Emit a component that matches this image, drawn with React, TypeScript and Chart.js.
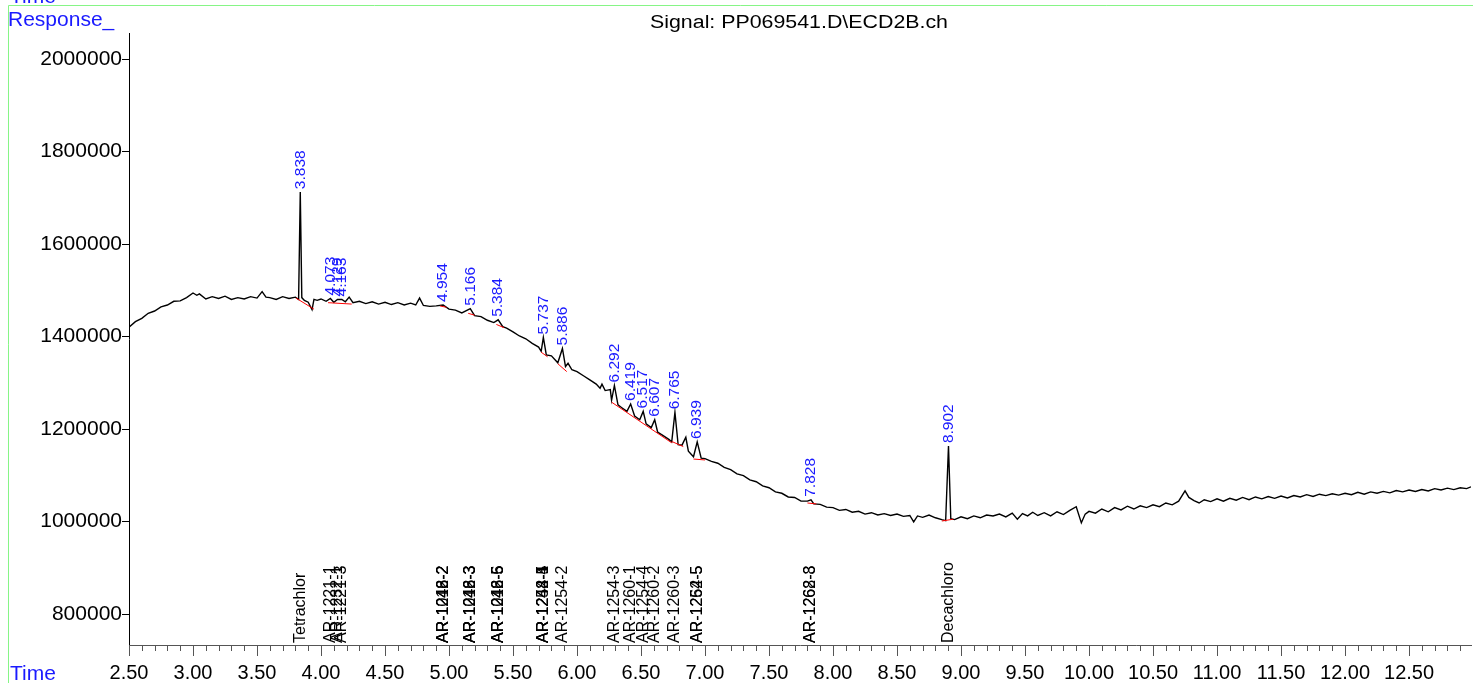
import React, { useEffect, useRef } from "react";
import { Chart, registerables } from "chart.js";

Chart.register(...registerables);

const FONT = '"Liberation Sans", Arial, Helvetica, sans-serif';

const titleText = "Signal: PP069541.D\\ECD2B.ch";
const yAxisTitle = "Response_";
const xAxisTitle = "Time";

const xMin = 2.5;
const xMax = 12.984;
const yMin = 733000;
const yMax = 2056000;

const xTickValues = [2.5, 3.0, 3.5, 4.0, 4.5, 5.0, 5.5, 6.0, 6.5, 7.0, 7.5, 8.0, 8.5, 9.0, 9.5, 10.0, 10.5, 11.0, 11.5, 12.0, 12.5];
const yTickValues = [800000, 1000000, 1200000, 1400000, 1600000, 1800000, 2000000];

// [retention time (min), response]
const trace: [number, number][] = [
  [2.50, 1420000], [2.55, 1432000], [2.60, 1439000], [2.65, 1450000], [2.70, 1455000], [2.75, 1464000],
  [2.80, 1468000], [2.85, 1476000], [2.90, 1477000], [2.95, 1484000], [3.00, 1494000], [3.03, 1489000],
  [3.05, 1492000], [3.10, 1481000], [3.15, 1486000], [3.20, 1482000], [3.25, 1487000], [3.30, 1480000],
  [3.35, 1484000], [3.40, 1481000], [3.45, 1486000], [3.50, 1483000], [3.54, 1497000], [3.57, 1485000],
  [3.60, 1484000], [3.65, 1480000], [3.70, 1486000], [3.75, 1482000], [3.80, 1485000], [3.825, 1480000],
  [3.838, 1712000], [3.85, 1484000], [3.87, 1478000], [3.90, 1474000], [3.93, 1458000], [3.945, 1480000],
  [3.97, 1478000], [4.00, 1481000], [4.04, 1476000], [4.073, 1482000], [4.10, 1474000], [4.129, 1480000],
  [4.163, 1480000], [4.19, 1475000], [4.22, 1485000], [4.25, 1473000], [4.30, 1476000], [4.35, 1471000],
  [4.40, 1475000], [4.45, 1470000], [4.50, 1474000], [4.55, 1469000], [4.60, 1473000], [4.65, 1468000],
  [4.70, 1472000], [4.74, 1468000], [4.77, 1483000], [4.80, 1467000], [4.85, 1465000], [4.90, 1466000],
  [4.954, 1468000], [5.00, 1459000], [5.05, 1457000], [5.10, 1451000], [5.166, 1460000], [5.20, 1445000],
  [5.25, 1443000], [5.30, 1435000], [5.35, 1430000], [5.384, 1436000], [5.42, 1421000], [5.45, 1418000],
  [5.50, 1410000], [5.55, 1401000], [5.60, 1395000], [5.65, 1385000], [5.70, 1377000], [5.72, 1368000],
  [5.737, 1398000], [5.76, 1360000], [5.80, 1358000], [5.85, 1343000], [5.886, 1374000], [5.91, 1335000],
  [5.93, 1342000], [5.96, 1328000], [6.00, 1324000], [6.05, 1315000], [6.10, 1306000], [6.15, 1297000],
  [6.18, 1288000], [6.195, 1297000], [6.22, 1283000], [6.26, 1285000], [6.27, 1262000], [6.292, 1294000],
  [6.32, 1252000], [6.35, 1246000], [6.39, 1238000], [6.419, 1254000], [6.45, 1228000], [6.49, 1220000],
  [6.517, 1238000], [6.54, 1211000], [6.58, 1203000], [6.607, 1220000], [6.63, 1193000], [6.67, 1186000],
  [6.72, 1177000], [6.74, 1172000], [6.765, 1236000], [6.79, 1166000], [6.82, 1165000], [6.85, 1182000],
  [6.87, 1152000], [6.91, 1140000], [6.939, 1172000], [6.97, 1137000], [7.00, 1136000], [7.05, 1130000],
  [7.10, 1126000], [7.15, 1117000], [7.20, 1112000], [7.25, 1103000], [7.30, 1099000], [7.35, 1090000],
  [7.40, 1086000], [7.45, 1077000], [7.50, 1073000], [7.55, 1064000], [7.60, 1061000], [7.65, 1053000],
  [7.70, 1052000], [7.75, 1044000], [7.80, 1044000], [7.828, 1047000], [7.85, 1038000], [7.90, 1037000],
  [7.95, 1031000], [8.00, 1030000], [8.05, 1024000], [8.10, 1026000], [8.15, 1020000], [8.20, 1022000],
  [8.25, 1016000], [8.30, 1019000], [8.35, 1014000], [8.40, 1017000], [8.45, 1013000], [8.50, 1016000],
  [8.55, 1011000], [8.60, 1013000], [8.63, 999000], [8.66, 1012000], [8.70, 1009000], [8.75, 1014000],
  [8.80, 1008000], [8.85, 1004000], [8.88, 1002000], [8.902, 1163000], [8.92, 1006000], [8.95, 1004000],
  [9.00, 1010000], [9.05, 1006000], [9.10, 1012000], [9.15, 1008000], [9.20, 1014000], [9.25, 1012000],
  [9.30, 1016000], [9.35, 1010000], [9.40, 1018000], [9.44, 1005000], [9.48, 1017000], [9.52, 1012000],
  [9.56, 1020000], [9.60, 1013000], [9.65, 1019000], [9.70, 1012000], [9.75, 1021000], [9.80, 1015000],
  [9.85, 1024000], [9.90, 1032000], [9.94, 997000], [9.97, 1016000], [10.00, 1022000], [10.05, 1018000],
  [10.10, 1027000], [10.15, 1021000], [10.20, 1030000], [10.25, 1025000], [10.30, 1033000], [10.35, 1027000],
  [10.40, 1034000], [10.45, 1030000], [10.50, 1036000], [10.55, 1032000], [10.60, 1040000], [10.65, 1036000],
  [10.70, 1044000], [10.75, 1066000], [10.78, 1052000], [10.82, 1045000], [10.86, 1040000], [10.90, 1047000],
  [10.95, 1043000], [11.00, 1049000], [11.05, 1044000], [11.10, 1050000], [11.15, 1046000], [11.20, 1052000],
  [11.25, 1047000], [11.30, 1053000], [11.35, 1049000], [11.40, 1054000], [11.45, 1050000], [11.50, 1055000],
  [11.55, 1051000], [11.60, 1056000], [11.65, 1053000], [11.70, 1058000], [11.75, 1054000], [11.80, 1059000],
  [11.85, 1056000], [11.90, 1060000], [11.95, 1057000], [12.00, 1061000], [12.05, 1058000], [12.10, 1063000],
  [12.15, 1059000], [12.20, 1064000], [12.25, 1061000], [12.30, 1065000], [12.35, 1062000], [12.40, 1067000],
  [12.45, 1064000], [12.50, 1068000], [12.55, 1065000], [12.60, 1069000], [12.65, 1066000], [12.70, 1071000],
  [12.75, 1068000], [12.80, 1072000], [12.85, 1069000], [12.90, 1073000], [12.95, 1071000], [12.984, 1075000],
];

// integration baselines: [t1, v1, t2, v2]
const integrationSegments: [number, number, number, number][] = [
  [3.805, 1483000, 3.945, 1459000],
  [4.055, 1473000, 4.24, 1470000],
  [4.93, 1466000, 4.98, 1463000],
  [5.15, 1450000, 5.2, 1446000],
  [5.37, 1426000, 5.43, 1419000],
  [5.72, 1366000, 5.77, 1356000],
  [5.85, 1341000, 5.92, 1324000],
  [6.27, 1258000, 6.74, 1170000],
  [6.74, 1173000, 6.83, 1162000],
  [6.91, 1135000, 7.0, 1133000],
  [7.8, 1040000, 7.87, 1038000],
  [8.85, 1001000, 8.94, 1005000],
];

const peakTimes = [3.838, 4.073, 4.129, 4.163, 4.954, 5.166, 5.384, 5.737, 5.886, 6.292, 6.419, 6.517, 6.607, 6.765, 6.939, 7.828, 8.902];
const peakLabels = ["3.838", "4.073", "4.129", "4.163", "4.954", "5.166", "5.384", "5.737", "5.886", "6.292", "6.419", "6.517", "6.607", "6.765", "6.939", "7.828", "8.902"];

const compoundTimes = [
  3.838, 4.073, 4.129, 4.163,
  4.954, 4.954, 4.954,
  5.166, 5.166, 5.166,
  5.384, 5.384, 5.384,
  5.737, 5.737, 5.737,
  5.886, 6.292, 6.419, 6.517, 6.607, 6.765,
  6.939, 6.939,
  7.828, 7.828,
  8.902,
];
const compoundNames = [
  "Tetrachlor", "AR-1221-1", "AR-1232-1", "AR-1221-3",
  "AR-1016-2", "AR-1242-2", "AR-1248-2",
  "AR-1016-3", "AR-1242-3", "AR-1248-3",
  "AR-1016-5", "AR-1242-6", "AR-1248-5",
  "AR-1242-5", "AR-1248-4", "AR-1254-1",
  "AR-1254-2", "AR-1254-3", "AR-1260-1", "AR-1254-4", "AR-1260-2", "AR-1260-3",
  "AR-1262-5", "AR-1254-5",
  "AR-1268-3", "AR-1262-8",
  "Decachloro",
];

const BLUE = "#1a1aff";
const GREEN = "#86f586";

function apexNear(t: number): number {
  let best = -Infinity;
  for (const [tt, v] of trace) {
    if (Math.abs(tt - t) <= 0.02 && v > best) best = v;
  }
  return best;
}

const decorPlugin = {
  id: "decor",
  afterDraw(chart: any) {
    const { ctx } = chart;
    const xs = chart.scales.x;
    const ys = chart.scales.y;
    const axisY = ys.bottom;
    ctx.save();

    // frame (green)
    ctx.strokeStyle = GREEN;
    ctx.lineWidth = 1;
    ctx.beginPath();
    ctx.moveTo(8.5, 683);
    ctx.lineTo(8.5, 5.5);
    ctx.lineTo(1473, 5.5);
    ctx.stroke();

    // x ticks (minor every 0.1, major every 0.5)
    ctx.strokeStyle = "#555";
    for (let i = 0; ; i++) {
      const t = xMin + i * 0.1;
      if (t > xMax + 1e-9) break;
      const px = Math.round(xs.getPixelForValue(t)) + 0.5;
      const major = i % 5 === 0;
      ctx.beginPath();
      ctx.moveTo(px, axisY);
      ctx.lineTo(px, axisY + (major ? 11 : 6));
      ctx.stroke();
    }

    // y ticks
    ctx.strokeStyle = "#000";
    for (const v of yTickValues) {
      const py = Math.round(ys.getPixelForValue(v)) + 0.5;
      ctx.beginPath();
      ctx.moveTo(xs.left - 7, py);
      ctx.lineTo(xs.left, py);
      ctx.stroke();
    }

    // peak labels
    ctx.font = `15.5px ${FONT}`;
    ctx.fillStyle = BLUE;
    ctx.textAlign = "left";
    ctx.textBaseline = "middle";
    peakTimes.forEach((t, i) => {
      const px = xs.getPixelForValue(t);
      const py = ys.getPixelForValue(apexNear(t)) - 3;
      ctx.save();
      ctx.translate(px, py);
      ctx.rotate(-Math.PI / 2);
      ctx.fillText(peakLabels[i], 0, 0);
      ctx.restore();
    });

    // compound labels
    ctx.font = `16px ${FONT}`;
    ctx.fillStyle = "#000";
    compoundTimes.forEach((t, i) => {
      const px = xs.getPixelForValue(t);
      ctx.save();
      ctx.translate(px, axisY - 2);
      ctx.rotate(-Math.PI / 2);
      ctx.fillText(compoundNames[i], 0, 0);
      ctx.restore();
    });

    // title
    ctx.font = `18px ${FONT}`;
    ctx.textAlign = "center";
    ctx.textBaseline = "alphabetic";
    const w = ctx.measureText(titleText).width;
    ctx.save();
    ctx.translate(799, 28);
    ctx.scale(298 / w, 1);
    ctx.fillText(titleText, 0, 0);
    ctx.restore();

    // blue axis titles
    ctx.fillStyle = BLUE;
    ctx.font = `21px ${FONT}`;
    ctx.textAlign = "left";
    ctx.fillText(yAxisTitle, 8, 26);
    ctx.fillText(xAxisTitle, 10, 680);
    ctx.fillText(xAxisTitle, 10, 3);

    ctx.restore();
  },
};

export default function App() {
  const ref = useRef<HTMLCanvasElement | null>(null);

  useEffect(() => {
    if (!ref.current) return;
    document.body.style.margin = "0";
    const segData: any[] = [];
    for (const [t1, v1, t2, v2] of integrationSegments) {
      segData.push({ x: t1, y: v1 }, { x: t2, y: v2 }, { x: t2, y: null });
    }
    const chart = new Chart(ref.current, {
      type: "line",
      data: {
        datasets: [
          {
            label: "baseline",
            data: segData,
            borderColor: "#ff0000",
            borderWidth: 1,
            pointRadius: 0,
            spanGaps: false,
            order: 0,
          },
          {
            label: "signal",
            data: trace.map(([t, v]) => ({ x: t, y: v })),
            borderColor: "#000000",
            borderWidth: 1.4,
            pointRadius: 0,
            tension: 0,
            order: 1,
          },
        ],
      },
      options: {
        responsive: false,
        animation: false,
        events: [],
        layout: { padding: { top: 33, right: 2, left: 0, bottom: 0 } },
        plugins: {
          legend: { display: false },
          tooltip: { enabled: false },
          title: { display: false },
        },
        scales: {
          x: {
            type: "linear",
            min: xMin,
            max: xMax,
            grid: { display: false, drawTicks: false },
            border: { display: true, color: "#555", width: 1 },
            afterBuildTicks: (s: any) => {
              s.ticks = xTickValues.map((v) => ({ value: v }));
            },
            afterFit: (s: any) => {
              s.height = 38;
            },
            ticks: {
              autoSkip: false,
              maxRotation: 0,
              padding: 16,
              color: "#000",
              font: { family: FONT, size: 20 },
              callback: (v: any) => Number(v).toFixed(2),
            },
          },
          y: {
            type: "linear",
            min: yMin,
            max: yMax,
            grid: { display: false, drawTicks: false },
            border: { display: true, color: "#000", width: 1 },
            afterBuildTicks: (s: any) => {
              s.ticks = yTickValues.map((v) => ({ value: v }));
            },
            afterFit: (s: any) => {
              s.width = 129;
            },
            ticks: {
              autoSkip: false,
              padding: 7,
              color: "#000",
              font: { family: FONT, size: 21 },
              callback: (v: any) => String(v),
            },
          },
        },
      },
      plugins: [decorPlugin],
    });
    return () => chart.destroy();
  }, []);

  return (
    <div style={{ position: "fixed", left: 0, top: 0, width: 1473, height: 683, background: "#fff" }}>
      <canvas ref={ref} width={1473} height={683} style={{ display: "block" }} />
    </div>
  );
}
